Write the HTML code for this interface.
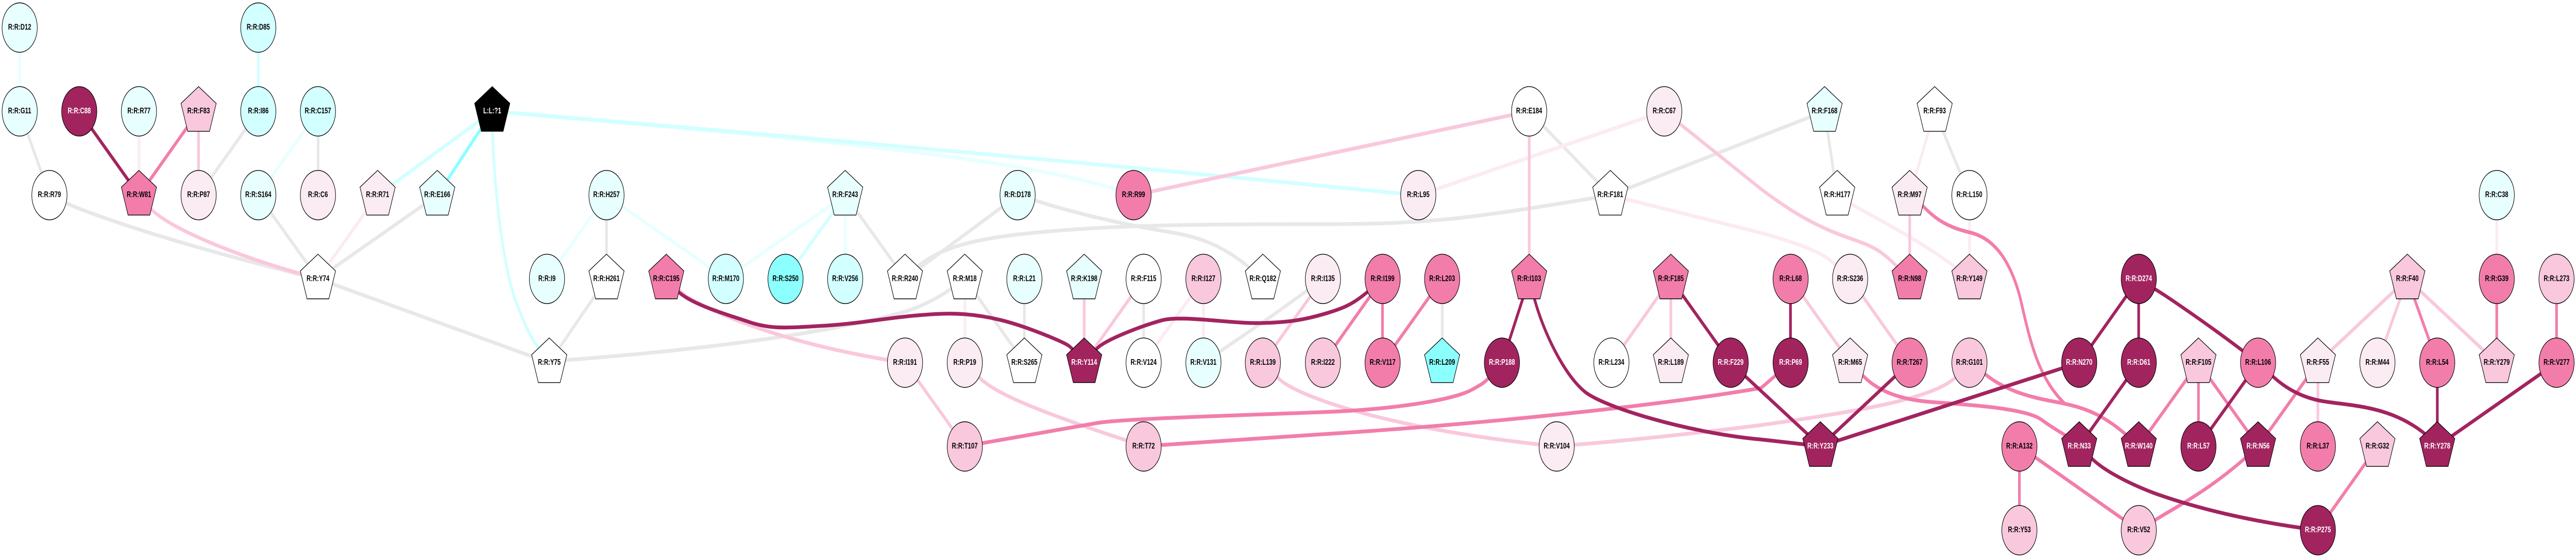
<!DOCTYPE html>
<html><head><meta charset="utf-8"><style>
html,body{margin:0;padding:0;background:#fff;width:100%;height:100%;overflow:hidden}
svg{display:block;width:100vw;height:100vh}
path{fill:none;stroke-width:7.3}
text{font-family:"Liberation Sans",Arial,sans-serif;font-weight:bold;font-size:16px;text-anchor:middle;fill:#000}
circle,polygon{stroke:#000;stroke-width:1.4}
.w{fill:#fff}.a{fill:#e8ffff}.b{fill:#d2ffff}.c{fill:#8cffff}.l{fill:#fbebf3}.p{fill:#f9c8dd}.m{fill:#f27dab}.d{fill:#a2245f}.k{fill:#000}
text.t{fill:#fff}
</style></head><body>
<svg xmlns="http://www.w3.org/2000/svg" viewBox="0 0 7021 1083" preserveAspectRatio="none">
<rect width="7021" height="1083" fill="#fff"/>
<path stroke="#e8e8e8" d="M53.6,216L135,379M704,216L541,379M867,216L867,379M1192,379L867,541M704,379L867,541M867,541L1497,704M1497,704L1653,541M1653,379L1653,541M2304,379L2467,541M2774,379L2467,541M2630,541L2792,704M2792,541L2792,704M3117,541L3117,704M3931,541L3931,704M4168,216L4389,379M4389,379L4973,216M4973,216L5007,379M5273,216L5368,379"/>
<path stroke="#e8e8e8" d="M135,379L180,394C260,420 500,478 867,541M2467,541C2540,480 2650,462 2860,449S3300,435 3600,435S4000,425 4389,379M2774,379L2800,384C2950,420 3100,440 3200,452S3360,490 3442,541M1497,704L1540,699C1800,685 2150,660 2400,617C2460,607 2530,597 2630,541M3606,541C3500,597 3450,622 3280,704"/>
<path stroke="#e8ffff" d="M53.6,53.5L53.6,216M867,216L704,379M1653,379L1491,541M1653,379L1978,541M2304,379L1978,541M2304,379L2304,541"/>
<path stroke="#e8ffff" d="M1342,216C2000,258 2800,300 3090,379"/>
<path stroke="#d2ffff" d="M704,53.5L704,216M1029,379L1342,216M2304,379L2141,541"/>
<path stroke="#d2ffff" d="M1342,216L1342,250C1348,388 1375,528 1407,587S1445,650 1468,677L1497,704M1342,216Q2600,290 3866,379"/>
<path stroke="#8cffff" d="M1192,379L1342,216"/>
<path stroke="#fbebf3" d="M379,216L379,379M1029,379L867,541M2630,541L2630,704M3280,541L3117,704M3280,541L3280,704M4536,216L3866,379M5273,216L5205,379M5368,379L5368,541M6805,379L6805,541"/>
<path stroke="#fbebf3" d="M5007,379L5040,394C5130,430 5270,480 5368,541M4389,379L4800,452C4880,468 4950,485 4985,503L5043,541"/>
<path stroke="#f9c8dd" d="M541,216L541,379M2955,541L2955,704M3117,541L2955,704M3606,541L3442,704M2467,704L2630,866M3090,379L4168,216M4168,216L4168,541M4554,541L4392,704M4554,541L4554,704M4880,541L5043,704M5043,541L5205,704M5205,379L5205,541M6317.5,704L6317.5,866M6317.5,704L6561,541M6561,541L6480,704M6561,541L6805,704"/>
<path stroke="#f9c8dd" d="M379,379L413,407C470,445 640,497 867,541M1816,541L1870,575C1950,610 2150,670 2467,704M2630,704L2668,732C2720,770 2880,810 3117,866M3442,704L3483,733C3530,770 3800,835 4243,866M5368,704L5340,725C5290,770 5100,795 4800,825Q4500,852 4243,866M4536,216L4800,367C4880,410 4950,440 5040,462S5130,490 5205,541"/>
<path stroke="#f27dab" d="M541,216L379,379M3768,541L3606,704M3768,541L3768,704M3931,541L3768,704M5992,704L5829,866M5992,704L5992,866M5992,704L6155,866M6317.5,704L6155,866M6561,541L6643,704M6805,541L6805,704M6968,541L6968,704M6480,866L6317.5,1029M5504,866L5504,1029M5504,866L5829,1029"/>
<path stroke="#f27dab" d="M2630,866L2990,821C3060,813 3300,808 3600,800C3800,795 3960,776 4010,757S4050,738 4094,704M3117,866L3600,843C4000,825 4500,790 4800,753L4880,704M5043,704L5075,727C5110,755 5170,775 5260,780S5520,791 5565,815S5640,846 5667,866M5368,704L5412,727C5470,760 5540,772 5603,780C5690,792 5740,805 5829,866M5205,379L5244,402C5275,425 5310,442 5374,452C5440,465 5480,510 5505,575C5530,650 5550,730 5627,783M5829,1029L5900,998C5980,965 6060,930 6155,866"/>
<path stroke="#a2245f" d="M216,216L379,379M4168,541L4094,704M4554,541L4717,704M4717,704L4962,866M4880,541L4880,704M5205,704L4962,866M4962,866L5667,704M5829,541L5667,704M5829,541L5829,704M5829,704L5667,866M6155,704L5992,866M6643,704L6643,866M6968,704L6643,866"/>
<path stroke="#a2245f" d="M1816,541L1850,567C1890,592 1980,610 2042,625S2150,636 2250,632S2450,612 2568,609S2780,630 2859,653S2910,672 2955,704M2955,704L2989,677C3010,660 3110,633 3165,622S3350,628 3433,627S3560,620 3620,607S3700,585 3768,541M4168,541L4183,582C4205,640 4260,725 4319,760C4370,790 4600,840 4800,853L4962,866M5829,541L5900,573Q6040,640 6155,704M6155,704L6197,732C6240,760 6290,775 6343,780C6420,788 6520,790 6611,843L6643,866M5667,866L5703,891C5730,910 5790,935 5871,957C5980,985 6130,1012 6318,1029"/>

<circle class="a" cx="53.6" cy="53.5" r="48"/><text x="53.6" y="57.5">R:R:D12</text>
<circle class="b" cx="704" cy="53.5" r="48"/><text x="704" y="57.5">R:R:D85</text>

<circle class="a" cx="53.6" cy="216.1" r="48"/><text x="53.6" y="220.1">R:R:G11</text>
<circle class="d" cx="216" cy="216.1" r="48"/><text class="t" x="216" y="220.1">R:R:C88</text>
<circle class="a" cx="378.7" cy="216.1" r="48"/><text x="378.7" y="220.1">R:R:R77</text>
<polygon class="p" transform="translate(541.3,216.1)" points="0,-48 48,-15.4 29.7,38.7 -29.7,38.7 -48,-15.4"/><text x="541.3" y="220.1">R:R:F83</text>
<circle class="b" cx="704" cy="216.1" r="48"/><text x="704" y="220.1">R:R:I86</text>
<circle class="b" cx="866.6" cy="216.1" r="48"/><text x="866.6" y="220.1">R:R:C157</text>
<polygon class="k" transform="translate(1341.6,216.1)" points="0,-48 48,-15.4 29.7,38.7 -29.7,38.7 -48,-15.4"/><text class="t" x="1341.6" y="220.1">L:L:?1</text>
<circle class="w" cx="4167.8" cy="216.1" r="48"/><text x="4167.8" y="220.1">R:R:E184</text>
<circle class="l" cx="4536" cy="216.1" r="48"/><text x="4536" y="220.1">R:R:C67</text>
<polygon class="a" transform="translate(4973,216.1)" points="0,-48 48,-15.4 29.7,38.7 -29.7,38.7 -48,-15.4"/><text x="4973" y="220.1">R:R:F168</text>
<polygon class="w" transform="translate(5273,216.1)" points="0,-48 48,-15.4 29.7,38.7 -29.7,38.7 -48,-15.4"/><text x="5273" y="220.1">R:R:F93</text>

<circle class="w" cx="134.7" cy="378.7" r="48"/><text x="134.7" y="382.7">R:R:R79</text>
<polygon class="m" transform="translate(378.7,378.7)" points="0,-48 48,-15.4 29.7,38.7 -29.7,38.7 -48,-15.4"/><text x="378.7" y="382.7">R:R:W81</text>
<circle class="l" cx="541.3" cy="378.7" r="48"/><text x="541.3" y="382.7">R:R:P87</text>
<circle class="a" cx="704" cy="378.7" r="48"/><text x="704" y="382.7">R:R:S164</text>
<circle class="l" cx="866.6" cy="378.7" r="48"/><text x="866.6" y="382.7">R:R:C6</text>
<polygon class="l" transform="translate(1029.2,378.7)" points="0,-48 48,-15.4 29.7,38.7 -29.7,38.7 -48,-15.4"/><text x="1029.2" y="382.7">R:R:R71</text>
<polygon class="a" transform="translate(1191.8,378.7)" points="0,-48 48,-15.4 29.7,38.7 -29.7,38.7 -48,-15.4"/><text x="1191.8" y="382.7">R:R:E166</text>
<circle class="a" cx="1653" cy="378.7" r="48"/><text x="1653" y="382.7">R:R:H257</text>
<polygon class="a" transform="translate(2303.6,378.7)" points="0,-48 48,-15.4 29.7,38.7 -29.7,38.7 -48,-15.4"/><text x="2303.6" y="382.7">R:R:F243</text>
<circle class="a" cx="2773.5" cy="378.7" r="48"/><text x="2773.5" y="382.7">R:R:D178</text>
<circle class="m" cx="3089.5" cy="378.7" r="48"/><text x="3089.5" y="382.7">R:R:R99</text>
<circle class="l" cx="3865.6" cy="378.7" r="48"/><text x="3865.6" y="382.7">R:R:L95</text>
<polygon class="w" transform="translate(4389,378.7)" points="0,-48 48,-15.4 29.7,38.7 -29.7,38.7 -48,-15.4"/><text x="4389" y="382.7">R:R:F181</text>
<polygon class="w" transform="translate(5007.4,378.7)" points="0,-48 48,-15.4 29.7,38.7 -29.7,38.7 -48,-15.4"/><text x="5007.4" y="382.7">R:R:H177</text>
<polygon class="l" transform="translate(5204.8,378.7)" points="0,-48 48,-15.4 29.7,38.7 -29.7,38.7 -48,-15.4"/><text x="5204.8" y="382.7">R:R:M97</text>
<circle class="w" cx="5367.8" cy="378.7" r="48"/><text x="5367.8" y="382.7">R:R:L150</text>
<circle class="a" cx="6805" cy="378.7" r="48"/><text x="6805" y="382.7">R:R:C38</text>

<polygon class="w" transform="translate(866.6,541.3)" points="0,-48 48,-15.4 29.7,38.7 -29.7,38.7 -48,-15.4"/><text x="866.6" y="545.3">R:R:Y74</text>
<circle class="a" cx="1490.8" cy="541.3" r="48"/><text x="1490.8" y="545.3">R:R:I9</text>
<polygon class="w" transform="translate(1653,541.3)" points="0,-48 48,-15.4 29.7,38.7 -29.7,38.7 -48,-15.4"/><text x="1653" y="545.3">R:R:H261</text>
<polygon class="m" transform="translate(1816,541.3)" points="0,-48 48,-15.4 29.7,38.7 -29.7,38.7 -48,-15.4"/><text x="1816" y="545.3">R:R:C195</text>
<circle class="b" cx="1978.4" cy="541.3" r="48"/><text x="1978.4" y="545.3">R:R:M170</text>
<circle class="c" cx="2141" cy="541.3" r="48"/><text x="2141" y="545.3">R:R:S250</text>
<circle class="b" cx="2303.6" cy="541.3" r="48"/><text x="2303.6" y="545.3">R:R:V256</text>
<polygon class="w" transform="translate(2466.6,541.3)" points="0,-48 48,-15.4 29.7,38.7 -29.7,38.7 -48,-15.4"/><text x="2466.6" y="545.3">R:R:R240</text>
<polygon class="w" transform="translate(2629.6,541.3)" points="0,-48 48,-15.4 29.7,38.7 -29.7,38.7 -48,-15.4"/><text x="2629.6" y="545.3">R:R:M18</text>
<circle class="a" cx="2792" cy="541.3" r="48"/><text x="2792" y="545.3">R:R:L21</text>
<polygon class="a" transform="translate(2955,541.3)" points="0,-48 48,-15.4 29.7,38.7 -29.7,38.7 -48,-15.4"/><text x="2955" y="545.3">R:R:K198</text>
<circle class="w" cx="3117" cy="541.3" r="48"/><text x="3117" y="545.3">R:R:F115</text>
<circle class="p" cx="3280" cy="541.3" r="48"/><text x="3280" y="545.3">R:R:I127</text>
<polygon class="w" transform="translate(3442,541.3)" points="0,-48 48,-15.4 29.7,38.7 -29.7,38.7 -48,-15.4"/><text x="3442" y="545.3">R:R:Q182</text>
<circle class="l" cx="3605.7" cy="541.3" r="48"/><text x="3605.7" y="545.3">R:R:I135</text>
<circle class="m" cx="3768.4" cy="541.3" r="48"/><text x="3768.4" y="545.3">R:R:I199</text>
<circle class="m" cx="3930.6" cy="541.3" r="48"/><text x="3930.6" y="545.3">R:R:L203</text>
<polygon class="m" transform="translate(4167.8,541.3)" points="0,-48 48,-15.4 29.7,38.7 -29.7,38.7 -48,-15.4"/><text x="4167.8" y="545.3">R:R:I103</text>
<polygon class="m" transform="translate(4554,541.3)" points="0,-48 48,-15.4 29.7,38.7 -29.7,38.7 -48,-15.4"/><text x="4554" y="545.3">R:R:F185</text>
<circle class="m" cx="4880.4" cy="541.3" r="48"/><text x="4880.4" y="545.3">R:R:L68</text>
<circle class="l" cx="5042.6" cy="541.3" r="48"/><text x="5042.6" y="545.3">R:R:S236</text>
<polygon class="m" transform="translate(5204.8,541.3)" points="0,-48 48,-15.4 29.7,38.7 -29.7,38.7 -48,-15.4"/><text x="5204.8" y="545.3">R:R:N98</text>
<polygon class="p" transform="translate(5367.8,541.3)" points="0,-48 48,-15.4 29.7,38.7 -29.7,38.7 -48,-15.4"/><text x="5367.8" y="545.3">R:R:Y149</text>
<circle class="d" cx="5829.3" cy="541.3" r="48"/><text class="t" x="5829.3" y="545.3">R:R:D274</text>
<polygon class="p" transform="translate(6561.3,541.3)" points="0,-48 48,-15.4 29.7,38.7 -29.7,38.7 -48,-15.4"/><text x="6561.3" y="545.3">R:R:F40</text>
<circle class="m" cx="6805" cy="541.3" r="48"/><text x="6805" y="545.3">R:R:G39</text>
<circle class="p" cx="6968" cy="541.3" r="48"/><text x="6968" y="545.3">R:R:L273</text>

<polygon class="w" transform="translate(1497,703.9)" points="0,-48 48,-15.4 29.7,38.7 -29.7,38.7 -48,-15.4"/><text x="1497" y="707.9">R:R:Y75</text>
<circle class="l" cx="2466.6" cy="703.9" r="48"/><text x="2466.6" y="707.9">R:R:I191</text>
<circle class="l" cx="2629.6" cy="703.9" r="48"/><text x="2629.6" y="707.9">R:R:P19</text>
<polygon class="w" transform="translate(2792,703.9)" points="0,-48 48,-15.4 29.7,38.7 -29.7,38.7 -48,-15.4"/><text x="2792" y="707.9">R:R:S265</text>
<polygon class="d" transform="translate(2955,703.9)" points="0,-48 48,-15.4 29.7,38.7 -29.7,38.7 -48,-15.4"/><text class="t" x="2955" y="707.9">R:R:Y114</text>
<circle class="w" cx="3117" cy="703.9" r="48"/><text x="3117" y="707.9">R:R:V124</text>
<circle class="a" cx="3280" cy="703.9" r="48"/><text x="3280" y="707.9">R:R:V131</text>
<circle class="p" cx="3442" cy="703.9" r="48"/><text x="3442" y="707.9">R:R:L139</text>
<circle class="p" cx="3605.7" cy="703.9" r="48"/><text x="3605.7" y="707.9">R:R:I222</text>
<circle class="m" cx="3768.4" cy="703.9" r="48"/><text x="3768.4" y="707.9">R:R:V117</text>
<polygon class="c" transform="translate(3930.6,703.9)" points="0,-48 48,-15.4 29.7,38.7 -29.7,38.7 -48,-15.4"/><text x="3930.6" y="707.9">R:R:L209</text>
<circle class="d" cx="4093.6" cy="703.9" r="48"/><text class="t" x="4093.6" y="707.9">R:R:P188</text>
<circle class="w" cx="4392" cy="703.9" r="48"/><text x="4392" y="707.9">R:R:L234</text>
<polygon class="l" transform="translate(4554,703.9)" points="0,-48 48,-15.4 29.7,38.7 -29.7,38.7 -48,-15.4"/><text x="4554" y="707.9">R:R:L189</text>
<circle class="d" cx="4717" cy="703.9" r="48"/><text class="t" x="4717" y="707.9">R:R:F229</text>
<circle class="d" cx="4880.4" cy="703.9" r="48"/><text class="t" x="4880.4" y="707.9">R:R:P69</text>
<polygon class="l" transform="translate(5042.6,703.9)" points="0,-48 48,-15.4 29.7,38.7 -29.7,38.7 -48,-15.4"/><text x="5042.6" y="707.9">R:R:M65</text>
<circle class="m" cx="5204.8" cy="703.9" r="48"/><text x="5204.8" y="707.9">R:R:T267</text>
<circle class="p" cx="5367.8" cy="703.9" r="48"/><text x="5367.8" y="707.9">R:R:G101</text>
<circle class="d" cx="5667" cy="703.9" r="48"/><text class="t" x="5667" y="707.9">R:R:N270</text>
<circle class="d" cx="5829.3" cy="703.9" r="48"/><text class="t" x="5829.3" y="707.9">R:R:D61</text>
<polygon class="p" transform="translate(5992,703.9)" points="0,-48 48,-15.4 29.7,38.7 -29.7,38.7 -48,-15.4"/><text x="5992" y="707.9">R:R:F105</text>
<circle class="m" cx="6154.5" cy="703.9" r="48"/><text x="6154.5" y="707.9">R:R:L106</text>
<polygon class="l" transform="translate(6317.5,703.9)" points="0,-48 48,-15.4 29.7,38.7 -29.7,38.7 -48,-15.4"/><text x="6317.5" y="707.9">R:R:F55</text>
<circle class="l" cx="6479.8" cy="703.9" r="48"/><text x="6479.8" y="707.9">R:R:M44</text>
<circle class="m" cx="6642.8" cy="703.9" r="48"/><text x="6642.8" y="707.9">R:R:L54</text>
<polygon class="p" transform="translate(6805,703.9)" points="0,-48 48,-15.4 29.7,38.7 -29.7,38.7 -48,-15.4"/><text x="6805" y="707.9">R:R:Y279</text>
<circle class="m" cx="6968" cy="703.9" r="48"/><text x="6968" y="707.9">R:R:V277</text>

<circle class="p" cx="2629.6" cy="866.5" r="48"/><text x="2629.6" y="870.5">R:R:T107</text>
<circle class="p" cx="3117" cy="866.5" r="48"/><text x="3117" y="870.5">R:R:T72</text>
<circle class="l" cx="4242.8" cy="866.5" r="48"/><text x="4242.8" y="870.5">R:R:V104</text>
<polygon class="d" transform="translate(4961.5,866.5)" points="0,-48 48,-15.4 29.7,38.7 -29.7,38.7 -48,-15.4"/><text class="t" x="4961.5" y="870.5">R:R:Y233</text>
<circle class="m" cx="5504" cy="866.5" r="48"/><text x="5504" y="870.5">R:R:A132</text>
<polygon class="d" transform="translate(5667,866.5)" points="0,-48 48,-15.4 29.7,38.7 -29.7,38.7 -48,-15.4"/><text class="t" x="5667" y="870.5">R:R:N33</text>
<polygon class="d" transform="translate(5829.3,866.5)" points="0,-48 48,-15.4 29.7,38.7 -29.7,38.7 -48,-15.4"/><text class="t" x="5829.3" y="870.5">R:R:W140</text>
<circle class="d" cx="5992" cy="866.5" r="48"/><text class="t" x="5992" y="870.5">R:R:L57</text>
<polygon class="d" transform="translate(6154.5,866.5)" points="0,-48 48,-15.4 29.7,38.7 -29.7,38.7 -48,-15.4"/><text class="t" x="6154.5" y="870.5">R:R:N56</text>
<circle class="m" cx="6317.5" cy="866.5" r="48"/><text x="6317.5" y="870.5">R:R:L37</text>
<polygon class="p" transform="translate(6479.8,866.5)" points="0,-48 48,-15.4 29.7,38.7 -29.7,38.7 -48,-15.4"/><text x="6479.8" y="870.5">R:R:G32</text>
<polygon class="d" transform="translate(6642.8,866.5)" points="0,-48 48,-15.4 29.7,38.7 -29.7,38.7 -48,-15.4"/><text class="t" x="6642.8" y="870.5">R:R:Y278</text>

<circle class="p" cx="5504" cy="1029.1" r="48"/><text x="5504" y="1033.1">R:R:Y53</text>
<circle class="p" cx="5829.3" cy="1029.1" r="48"/><text x="5829.3" y="1033.1">R:R:V52</text>
<circle class="d" cx="6317.5" cy="1029.1" r="48"/><text class="t" x="6317.5" y="1033.1">R:R:P275</text>
</svg>
</body></html>
